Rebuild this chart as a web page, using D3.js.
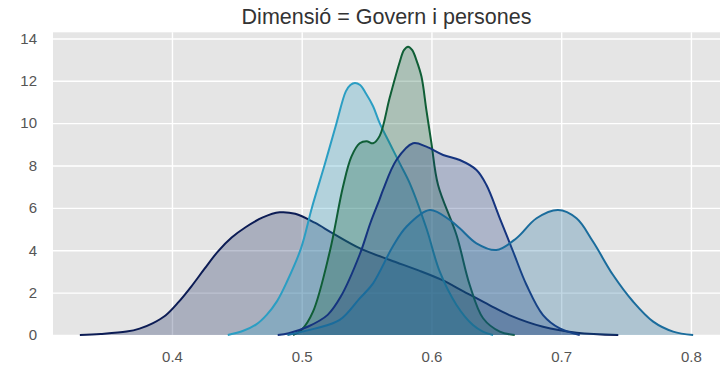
<!DOCTYPE html>
<html>
<head>
<meta charset="utf-8">
<script src="https://cdn.jsdelivr.net/npm/d3@7"></script>
<style>
  html, body { margin: 0; padding: 0; background: #ffffff; }
  svg { display: block; }
  text { font-family: "Liberation Sans", Arial, sans-serif; }
</style>
</head>
<body>
<svg id="chart" width="723" height="369"></svg>
<script>
// Kernel density curves, one per group (x = score, y = density)
const titleText = "Dimensió = Govern i persones";

const xTicks = [0.4, 0.5, 0.6, 0.7, 0.8];
const yTicks = [0, 2, 4, 6, 8, 10, 12, 14];

const seriesNames = ["A", "B", "C", "D", "E"];
const seriesColors = ["#0c1c55", "#2b9ec3", "#0f5e36", "#15347f", "#1a6c9c"];

const xA = [0.329, 0.345, 0.365, 0.375, 0.385, 0.395, 0.405, 0.415, 0.425, 0.4355, 0.446, 0.457, 0.470, 0.483, 0.495, 0.510, 0.524, 0.545, 0.568, 0.590, 0.608, 0.625, 0.645, 0.660, 0.686, 0.712, 0.744];
const yA = [0.00, 0.05, 0.16, 0.30, 0.55, 0.92, 1.55, 2.30, 3.12, 3.95, 4.60, 5.10, 5.55, 5.79, 5.72, 5.30, 4.80, 4.09, 3.54, 3.05, 2.60, 2.05, 1.40, 0.94, 0.39, 0.11, 0.00];

const xB = [0.443, 0.455, 0.465, 0.473, 0.481, 0.4885, 0.4995, 0.5078, 0.5175, 0.5268, 0.534, 0.5375, 0.541, 0.545, 0.5495, 0.555, 0.5601, 0.5678, 0.5756, 0.5833, 0.5961, 0.6064, 0.6193, 0.632, 0.640, 0.6475];
const yB = [0.00, 0.20, 0.50, 0.95, 1.60, 2.50, 4.10, 6.00, 8.00, 10.00, 11.50, 11.80, 11.90, 11.80, 11.40, 10.80, 10.00, 9.05, 8.10, 7.16, 5.04, 2.99, 1.42, 0.47, 0.15, 0.00];

const xC = [0.4933, 0.500, 0.5087, 0.5216, 0.5318, 0.5383, 0.5447, 0.550, 0.555, 0.5601, 0.5678, 0.5756, 0.5788, 0.582, 0.5852, 0.5884, 0.5923, 0.5961, 0.600, 0.6051, 0.6193, 0.6295, 0.6398, 0.6527, 0.6642];
const yC = [0.00, 0.25, 1.10, 3.93, 7.00, 8.42, 9.05, 9.15, 9.05, 9.40, 11.20, 12.90, 13.45, 13.61, 13.45, 12.98, 12.20, 10.62, 9.05, 7.08, 4.72, 2.36, 0.79, 0.16, 0.00];

const xD = [0.4815, 0.490, 0.505, 0.520, 0.530, 0.5447, 0.553, 0.560, 0.5627, 0.573, 0.5858, 0.5961, 0.609, 0.6218, 0.6347, 0.6424, 0.6527, 0.663, 0.6733, 0.686, 0.6989, 0.7143];
const yD = [0.00, 0.08, 0.40, 0.95, 1.80, 3.80, 5.30, 6.40, 6.85, 8.26, 9.05, 8.89, 8.50, 8.26, 7.79, 7.08, 5.51, 3.93, 2.36, 0.94, 0.31, 0.00];

const xE = [0.489, 0.510, 0.5293, 0.5447, 0.555, 0.5704, 0.5807, 0.5987, 0.6141, 0.6218, 0.6347, 0.650, 0.6655, 0.681, 0.6976, 0.7118, 0.7246, 0.740, 0.7555, 0.7709, 0.7863, 0.8017];
const yE = [0.00, 0.30, 0.71, 1.73, 2.44, 4.20, 5.11, 5.90, 5.43, 5.04, 4.33, 4.01, 4.57, 5.51, 5.90, 5.51, 4.40, 2.83, 1.57, 0.63, 0.16, 0.00];

const seriesX = [xA, xB, xC, xD, xE];
const seriesY = [yA, yB, yC, yD, yE];

const margin = { top: 32.3, right: 3, bottom: 34, left: 53 };
const width = 723, height = 369;

const svg = d3.select("#chart");

const x = d3.scaleLinear().domain([0.3083, 0.8224]).range([margin.left, width - margin.right]);
const y = d3.scaleLinear().domain([0, 14.29]).range([height - margin.bottom, margin.top]);

// Panel background
svg.append("rect")
  .attr("x", margin.left).attr("y", margin.top)
  .attr("width", width - margin.left - margin.right)
  .attr("height", height - margin.top - margin.bottom)
  .attr("fill", "#e5e5e5");

// Grid lines via axes with full-length ticks
const xGrid = svg.append("g")
  .attr("transform", `translate(0,${height - margin.bottom})`)
  .call(d3.axisBottom(x).tickValues(xTicks).tickSize(-(height - margin.top - margin.bottom)).tickFormat(""));
xGrid.select(".domain").remove();
xGrid.selectAll("line").attr("stroke", "#ffffff").attr("stroke-width", 1.4);

const yGrid = svg.append("g")
  .attr("transform", `translate(${margin.left},0)`)
  .call(d3.axisLeft(y).tickValues(yTicks).tickSize(-(width - margin.left - margin.right)).tickFormat(""));
yGrid.select(".domain").remove();
yGrid.selectAll("line").attr("stroke", "#ffffff").attr("stroke-width", 1.4);

// Tick labels
const xAxis = svg.append("g")
  .attr("transform", `translate(0,${height - margin.bottom})`)
  .call(d3.axisBottom(x).tickValues(xTicks).tickSize(0).tickPadding(16).tickFormat(d3.format(".1f")));
xAxis.select(".domain").remove();
xAxis.selectAll("text").attr("fill", "#555555").style("font-size", "15px").style("font-family", "'Liberation Sans', Arial, sans-serif");

const yAxis = svg.append("g")
  .attr("transform", `translate(${margin.left},0)`)
  .call(d3.axisLeft(y).tickValues(yTicks).tickSize(0).tickPadding(16).tickFormat(d3.format("d")));
yAxis.select(".domain").remove();
yAxis.selectAll("text").attr("fill", "#555555").style("font-size", "15px").style("font-family", "'Liberation Sans', Arial, sans-serif");

// Density areas and outlines
const plot = svg.append("g");
const curve = d3.curveCatmullRom.alpha(0.5);
const area = d3.area().x(d => x(d[0])).y0(y(0)).y1(d => y(Math.max(0, d[1]))).curve(curve);
const line = d3.line().x(d => x(d[0])).y(d => y(d[1])).curve(curve);

seriesNames.forEach((name, i) => {
  const pts = seriesX[i].map((v, j) => [v, seriesY[i][j]]);
  plot.append("path").datum(pts)
    .attr("d", area)
    .attr("fill", seriesColors[i])
    .attr("fill-opacity", 0.27);
  plot.append("path").datum(pts)
    .attr("d", line)
    .attr("fill", "none")
    .attr("stroke", seriesColors[i])
    .attr("stroke-width", 2);
});

// Title
svg.append("text")
  .attr("x", (margin.left + width - margin.right) / 2)
  .attr("y", 24)
  .attr("text-anchor", "middle")
  .attr("fill", "#333333")
  .style("font-size", "21.5px")
  .text(titleText);
</script>
</body>
</html>
